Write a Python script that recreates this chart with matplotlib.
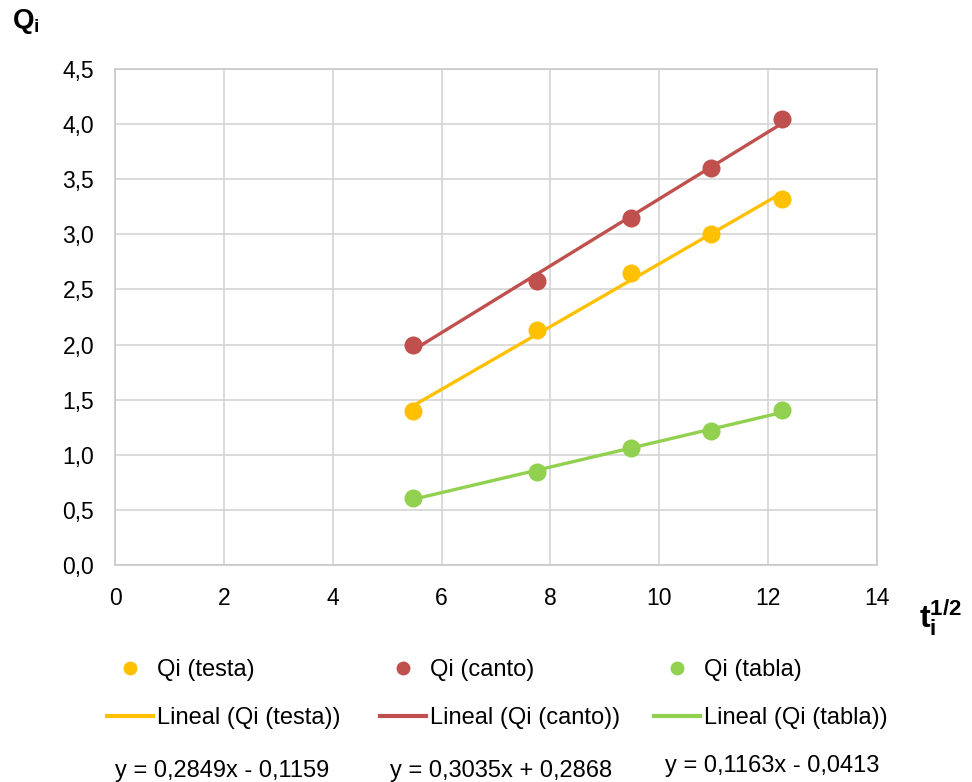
import matplotlib
matplotlib.use("Agg")
import matplotlib.pyplot as plt
from matplotlib.lines import Line2D
import numpy as np

plt.rcParams['font.family'] = ['Liberation Sans', 'DejaVu Sans']
plt.rcParams['mathtext.fontset'] = 'custom'
plt.rcParams['mathtext.rm'] = 'Liberation Sans'
plt.rcParams['mathtext.bf'] = 'Liberation Sans:bold'
plt.rcParams['mathtext.it'] = 'Liberation Sans:italic'

# Data
t_sqrt = [5.477, 7.746, 9.487, 10.954, 12.247]
q_testa = [1.40, 2.13, 2.65, 3.00, 3.32]
q_canto = [2.00, 2.58, 3.15, 3.60, 4.05]
q_tabla = [0.61, 0.84, 1.06, 1.22, 1.41]
series_names = ["Qi (testa)", "Qi (canto)", "Qi (tabla)"]
slopes = [0.2849, 0.3035, 0.1163]
intercepts = [-0.1159, 0.2868, -0.0413]
colors = ["#FFC000", "#C0504D", "#92D050"]
x_ticks = [0, 2, 4, 6, 8, 10, 12, 14]
y_ticks = [0.0, 0.5, 1.0, 1.5, 2.0, 2.5, 3.0, 3.5, 4.0, 4.5]

fig = plt.figure(figsize=(9.72, 7.82), dpi=100)
ax = fig.add_axes([115/972, 1-565/782, (877-115)/972, (565-69)/782])

series = [q_testa, q_canto, q_tabla]
x = np.array(t_sqrt)
handles_pts = []
handles_lines = []
for ys, m, b, c in zip(series, slopes, intercepts, colors):
    xl = np.array([x.min(), x.max()])
    ax.plot(xl, m * xl + b, color=c, lw=2.4, zorder=2, solid_capstyle='butt')
    ax.plot(x, ys, 'o', color=c, ms=13, zorder=3, markeredgewidth=0)
    handles_pts.append(Line2D([], [], marker='o', ls='none', color=c, ms=10, markeredgewidth=0))
    handles_lines.append(Line2D([], [], color=c, lw=3))

ax.set_xlim(0, 14)
ax.set_ylim(0, 4.5)
ax.set_xticks(x_ticks)
ax.set_yticks(y_ticks)
ax.set_xticklabels([str(v) for v in x_ticks])
ax.set_yticklabels([f"{v:.1f}".replace('.', ',') for v in y_ticks])
ax.tick_params(length=0, labelsize=16.5)
ax.tick_params(axis='y', pad=15)
ax.tick_params(axis='x', pad=15.5)
ax.grid(True, color='#d4d4d4', lw=1.2)
ax.set_axisbelow(True)
for s in ax.spines.values():
    s.set_color('#c8c8c8')
    s.set_linewidth(1.2)

fig.text(12/972, 1-22/782, r'$\mathbf{Q_i}$', fontsize=20, va='center', ha='left')
fig.text(919/972, 1-618/782, r'$\mathbf{t_i^{1/2}}$', fontsize=23, va='center', ha='left')

# Legend columns
legend_x = [107, 380, 654]
for i in range(3):
    fig.legend([handles_pts[i], handles_lines[i]],
               [series_names[i], "Lineal (" + series_names[i] + ")"],
               loc='upper left', bbox_to_anchor=(legend_x[i]/972, 1-659/782),
               frameon=False, fontsize=17, handlelength=1.95, handletextpad=0.17,
               labelspacing=1.1, borderpad=0, borderaxespad=0)

eq_pos = [(115, 771), (390, 771), (665, 766)]
for (px, py), m, b in zip(eq_pos, slopes, intercepts):
    sign = '+' if b >= 0 else '-'
    txt = f"y = {m:.4f}x {sign} {abs(b):.4f}".replace('.', ',')
    fig.text(px/972, 1-py/782, txt, fontsize=17, va='center', ha='left')

fig.savefig("out.png", dpi=100)
